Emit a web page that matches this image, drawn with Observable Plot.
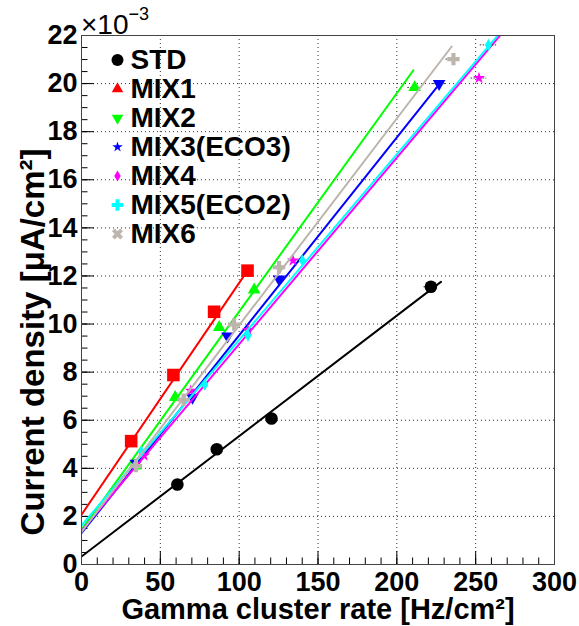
<!DOCTYPE html>
<html>
<head>
<meta charset="utf-8">
<script src="https://cdn.jsdelivr.net/npm/d3@7"></script>
<script src="https://cdn.jsdelivr.net/npm/@observablehq/plot@0.6"></script>
<style>
  html, body { margin: 0; padding: 0; background: #fff; }
  #chart { position: relative; width: 579px; height: 626px; }
  #chart svg { display: block; }
  #exponent {
    position: absolute; left: 81px; top: 11px;
    font: 400 28px/28px 'Liberation Sans', Arial, Helvetica, sans-serif;
    color: #000; white-space: nowrap;
  }
  #exponent span { font-size: 18px; position: relative; top: -14px; }
</style>
</head>
<body>
<div id="chart"><div id="exponent">×10<span>−3</span></div></div>
<script>
// Current density (×10⁻³ µA/cm²) versus gamma cluster rate (Hz/cm²), per gas mixture.
const legendLabels = ["STD", "MIX1", "MIX2", "MIX3(ECO3)", "MIX4", "MIX5(ECO2)", "MIX6"];

const rateSTD = [60.8, 85.8, 120.5, 221.6];
const curSTD  = [3.33, 4.79, 6.07, 11.55];
const errSTD  = [1.2, 1.7, 2.4, 4.4];

const rateMIX1 = [31.5, 58.3, 84.1, 105.3];
const curMIX1  = [5.13, 7.88, 10.51, 12.22];
const errMIX1  = [0.6, 1.2, 1.7, 2.1];

const rateMIX2 = [34.0, 59.4, 87.3, 109.5, 211.3];
const curMIX2  = [4.10, 6.95, 9.86, 11.42, 19.84];
const errMIX2  = [0.7, 1.2, 1.7, 2.2, 4.3];

const rateMIX3 = [34.5, 70.4, 92.6, 125.3, 226.8];
const curMIX3  = [4.20, 6.95, 9.50, 11.87, 20.00];
const errMIX3  = [0.7, 1.4, 1.9, 2.5, 4.5];

const rateMIX4 = [39.7, 69.3, 105.6, 134.2, 252.1];
const curMIX4  = [4.53, 7.23, 9.75, 12.64, 20.23];
const errMIX4  = [0.8, 1.4, 2.1, 2.7, 5.0];

const rateMIX5 = [38.0, 78.2, 105.6, 140.1, 258.1];
const curMIX5  = [4.70, 7.48, 9.52, 12.64, 21.61];
const errMIX5  = [0.8, 1.6, 2.1, 2.8, 5.2];

const rateMIX6 = [34.6, 64.7, 96.8, 125.3, 235.9];
const curMIX6  = [4.09, 6.85, 9.98, 12.36, 21.02];
const errMIX6  = [0.7, 1.3, 1.9, 2.5, 4.7];

// Linear fits: intercept, slope and upper end of the fit range
const fitIntercept = [0.33, 2.07, 1.44, 1.30, 1.40, 1.62, 1.35];
const fitSlope     = [0.0501, 0.0964, 0.0908, 0.0823, 0.0776, 0.0772, 0.0860];
const fitRangeEnd  = [228, 105.3, 210.5, 225.3, 290, 290, 234.8];

// Axis ticks
const xMajor = [0, 50, 100, 150, 200, 250, 300];
const xMinor = d3.range(0, 301, 10);
const yMajor = [0, 2, 4, 6, 8, 10, 12, 14, 16, 18, 20, 22];
const yMinor = d3.range(0, 22.01, 0.5);

// Styles
const colors = ["#000000", "#ff0000", "#00ff00", "#0000ff", "#ff00ff", "#00ffff", "#bcb5ae"];
const markSymbol = ["circle", "square", "triangle", "triangle", "star", "diamond", "cross"];
const markRotate = [0, 0, 0, 180, 0, 0, 0];
const markR      = [6.3, 7.1, 4.7, 4.7, 3.8, 3.7, 5.2];
const keySymbol  = ["circle", "triangle", "triangle", "star", "diamond", "cross", "cross"];
const keyRotate  = [0, 0, 180, 0, 0, 0, 45];
const keyR       = [6, 4.3, 4.3, 3.3, 3.4, 4.9, 4.9];

const rates = [rateSTD, rateMIX1, rateMIX2, rateMIX3, rateMIX4, rateMIX5, rateMIX6];
const currents = [curSTD, curMIX1, curMIX2, curMIX3, curMIX4, curMIX5, curMIX6];
const errors = [errSTD, errMIX1, errMIX2, errMIX3, errMIX4, errMIX5, errMIX6];

const font = "'Liberation Sans', Arial, Helvetica, sans-serif";

const seriesMarks = rates.flatMap((xs, s) => {
  const pts = xs.map((x, i) => ({x, y: currents[s][i], e: errors[s][i]}));
  const a = fitIntercept[s], b = fitSlope[s], end = fitRangeEnd[s];
  const fit = [{x: 0, y: a}, {x: end, y: a + b * end}];
  return [
    Plot.line(fit, {x: "x", y: "y", stroke: colors[s], strokeWidth: 2, clip: true}),
    Plot.ruleY(pts, {y: "y", x1: d => d.x - d.e, x2: d => d.x + d.e, stroke: "#333", strokeWidth: 1, strokeDasharray: "1.5,1.5"}),
    Plot.dot(pts, {x: "x", y: "y", symbol: markSymbol[s], rotate: markRotate[s], r: markR[s], fill: colors[s], stroke: "none"})
  ];
});

const legendMarks = legendLabels.flatMap((label, i) => [
  Plot.dot([label], {frameAnchor: "top-left", dx: 36, dy: 24.5 + i * 29, symbol: keySymbol[i], rotate: keyRotate[i], r: keyR[i], fill: colors[i], stroke: "none"}),
  Plot.text([label], {frameAnchor: "top-left", dx: 49, dy: 24.5 + i * 29, text: d => d, textAnchor: "start", lineAnchor: "middle", fontSize: 28, fontWeight: "bold", fill: "#000"})
]);

const chart = Plot.plot({
  width: 579,
  height: 626,
  marginLeft: 81,
  marginRight: 25,
  marginTop: 35,
  marginBottom: 62,
  x: {domain: [0, 300]},
  y: {domain: [0, 22]},
  style: {fontFamily: font, fontWeight: "bold", fontSize: "27px", color: "#000", background: "#fff", overflow: "visible"},
  marks: [
    Plot.gridX(xMajor, {stroke: "#000", strokeOpacity: 0.8, strokeDasharray: "1,3", strokeWidth: 1}),
    Plot.gridY(yMajor, {stroke: "#000", strokeOpacity: 0.8, strokeDasharray: "1,3", strokeWidth: 1}),
    // ticks point into the frame
    Plot.axisX(xMinor, {tickSize: -6.5, tickFormat: () => "", label: null, stroke: "#000"}),
    Plot.axisX(xMajor, {tickSize: -13, tickFormat: () => "", label: null, stroke: "#000"}),
    Plot.axisY(yMinor, {tickSize: -6.5, tickFormat: () => "", label: null, stroke: "#000"}),
    Plot.axisY(yMajor, {tickSize: -13, tickFormat: () => "", label: null, stroke: "#000"}),
    Plot.axisX(xMajor, {tickSize: 0, tickPadding: 7, tickFormat: d => String(d), label: null, fontSize: 27, fontWeight: "bold"}),
    Plot.axisY(yMajor, {tickSize: 0, tickPadding: 4, tickFormat: d => String(d), label: null, fontSize: 27, fontWeight: "bold"}),
    ...seriesMarks,
    Plot.frame({stroke: "#444", strokeWidth: 1}),
    ...legendMarks,
    // axis titles
    Plot.text(["Gamma cluster rate [Hz/cm²]"], {frameAnchor: "bottom", dy: 45, text: d => d, lineAnchor: "middle", fontSize: 29, fontWeight: "bold", fill: "#000"}),
    Plot.text(["Current density [μA/cm²]"], {frameAnchor: "top-left", dx: -48, dy: 113, rotate: -90, textAnchor: "end", lineAnchor: "middle", text: d => d, fontSize: 33, fontWeight: "bold", fill: "#000"})
  ]
});

document.getElementById("chart").appendChild(chart);
</script>
</body>
</html>
